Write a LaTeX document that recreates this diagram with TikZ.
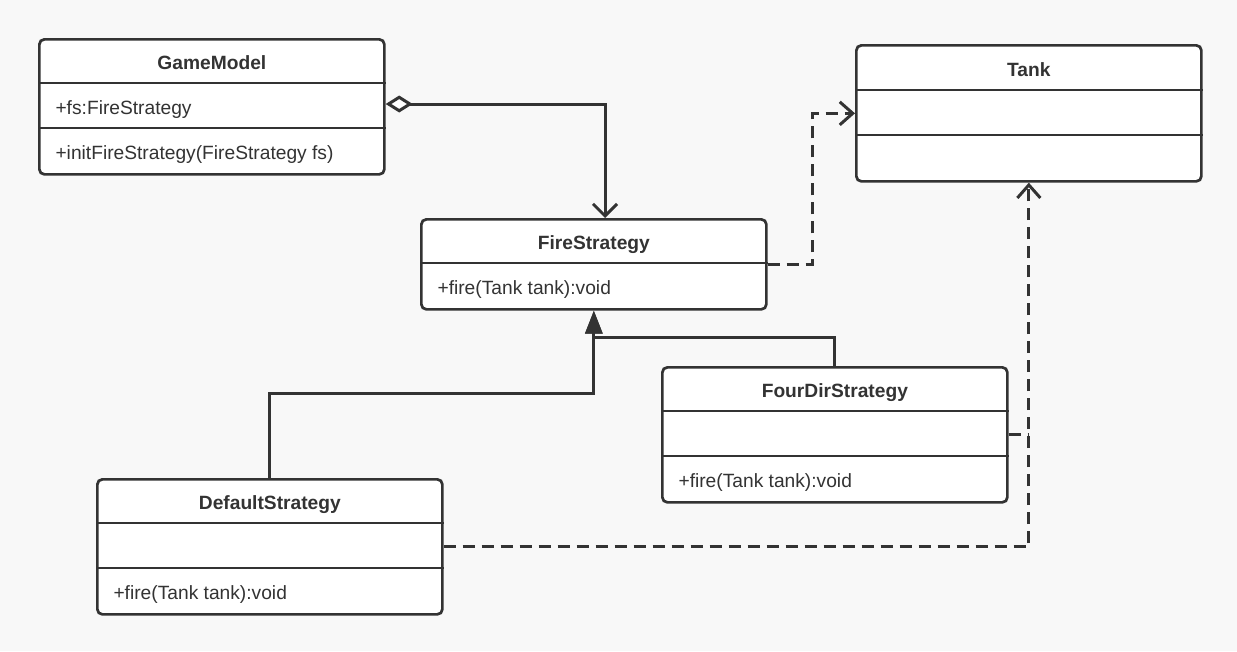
\documentclass[tikz,border=0pt]{standalone}
\usepackage{fontspec}
\setmainfont{Liberation Sans}
\usetikzlibrary{arrows.meta,positioning}
\definecolor{ink}{HTML}{333333}
\definecolor{paper}{HTML}{F8F8F8}

\begin{document}
\begin{tikzpicture}[x=1pt,y=-1pt,
      font=\fontsize{19.2}{23}\selectfont, text=ink,
      classbox/.style={draw=ink, fill=white, line width=2.7pt, rounded corners=5pt,
        anchor=north west, inner sep=0pt, minimum width=345pt},
      title/.style={anchor=base, font=\fontsize{19.2}{23}\selectfont\bfseries},
      member/.style={anchor=base west},
      divider/.style={draw=ink, line width=2.3pt},
      link/.style={draw=ink, line width=3pt},
      aggr/.style={link, {Diamond[open,fill=white,length=27pt,width=17pt]}-{Straight Barb[length=12pt,width=24pt]}},
      inherit/.style={link, -{Triangle[length=23pt,width=17pt]}},
      depend/.style={link, dash pattern=on 12pt off 7pt, -{Straight Barb[length=13pt,width=23pt]}}]
    \fill[paper] (0,0) rectangle (1237,651);
    \useasboundingbox (0,0) rectangle (1237,651);

    % classes
    \node[classbox, minimum height=135pt] (gm) at (38,38) {};
    \node[classbox, minimum height=136pt] (tank) at (855,44) {};
    \node[classbox, minimum height=90pt] (fs) at (420,218) {};
    \node[classbox, minimum height=135pt] (fd) at (661,366) {};
    \node[classbox, minimum height=135pt] (ds) at (96,478) {};

    % compartments
    \draw[divider] ([yshift=-45pt]gm.north west) -- ([yshift=-45pt]gm.north east);
    \draw[divider] ([yshift=-90pt]gm.north west) -- ([yshift=-90pt]gm.north east);
    \draw[divider] ([yshift=-46pt]tank.north west) -- ([yshift=-46pt]tank.north east);
    \draw[divider] ([yshift=-91pt]tank.north west) -- ([yshift=-91pt]tank.north east);
    \draw[divider] ([yshift=-45pt]fs.north west) -- ([yshift=-45pt]fs.north east);
    \draw[divider] ([yshift=-45pt]fd.north west) -- ([yshift=-45pt]fd.north east);
    \draw[divider] ([yshift=-90pt]fd.north west) -- ([yshift=-90pt]fd.north east);
    \draw[divider] ([yshift=-45pt]ds.north west) -- ([yshift=-45pt]ds.north east);
    \draw[divider] ([yshift=-90pt]ds.north west) -- ([yshift=-90pt]ds.north east);

    % texts
    \node[title] (gm title) at ([yshift=-31pt]gm.north) {GameModel};
    \node[member] (gm attr) at ([xshift=14pt,yshift=-76pt]gm.north west) {+fs:FireStrategy};
    \node[member] (gm op) at ([xshift=14pt,yshift=-121pt]gm.north west) {+initFireStrategy(FireStrategy fs)};
    \node[title] (tank title) at ([yshift=-32pt]tank.north) {Tank};
    \node[title] (fs title) at ([yshift=-31pt]fs.north) {FireStrategy};
    \node[member] (fs op) at ([xshift=14pt,yshift=-76pt]fs.north west) {+fire(Tank tank):void};
    \node[title] (fd title) at ([yshift=-31pt]fd.north) {FourDirStrategy};
    \node[member] (fd op) at ([xshift=14pt,yshift=-121pt]fd.north west) {+fire(Tank tank):void};
    \node[title] (ds title) at ([yshift=-31pt]ds.north) {DefaultStrategy};
    \node[member] (ds op) at ([xshift=14pt,yshift=-121pt]ds.north west) {+fire(Tank tank):void};

    % relations
    \draw[aggr] ([yshift=-66pt]gm.north east) -| ([xshift=185pt]fs.north west);
    \draw[depend] (fs.east) -- ++(45,0) |- (tank.west);
    \draw[inherit] (ds.north) -- ++(0,-85) -| (fs.south);
    \draw[inherit] (fd.north) -- ++(0,-29) -| (fs.south);
    \draw[depend] (ds.east) -| (tank.south);
    \draw[link, dash pattern=on 12pt off 7pt] (fd.east) -- (fd.east -| tank.south);
  \end{tikzpicture}
\end{document}
